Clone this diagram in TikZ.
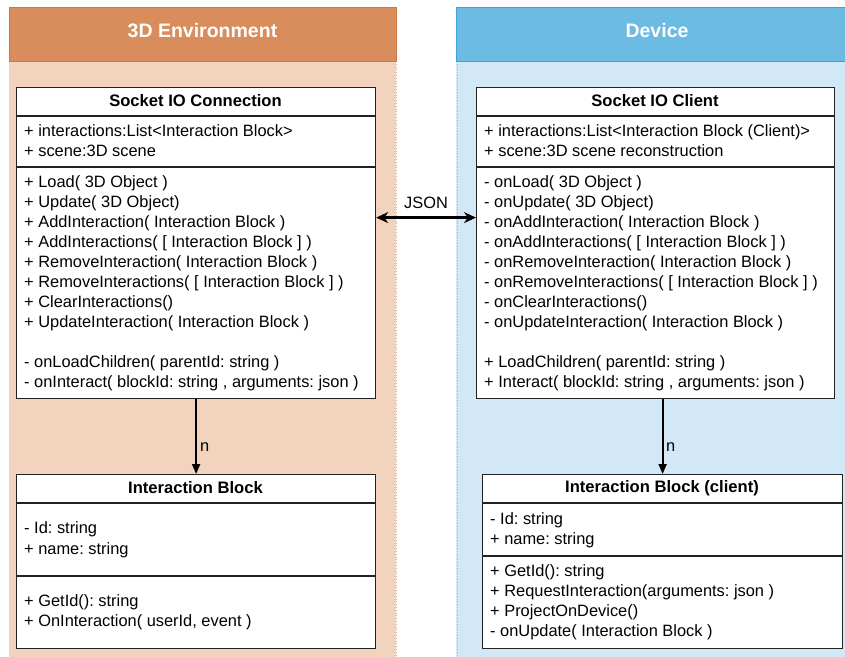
\documentclass[tikz,border=0pt]{standalone}
\usepackage{fontspec}
\setmainfont{Liberation Sans}
\usetikzlibrary{arrows.meta}
\definecolor{orHead}{HTML}{DA8D5C}
\definecolor{orEdge}{HTML}{D0793A}
\definecolor{orBody}{HTML}{F2D3BE}
\definecolor{blHead}{HTML}{6BBBE3}
\definecolor{blEdge}{HTML}{3FA3DA}
\definecolor{blBody}{HTML}{D3E8F7}
\definecolor{boxEdge}{HTML}{222222}
\frenchspacing
\begin{document}
\begin{tikzpicture}[x=1pt,y=-1pt,
  header/.style={anchor=north west, minimum height=54pt, inner sep=0pt, line width=1pt},
  htext/.style={inner sep=0pt, font=\fontsize{19.5}{22}\selectfont\bfseries, text=white},
  cls/.style={draw=boxEdge, fill=white, line width=1.2pt, anchor=north west, inner sep=0pt},
  divider/.style={draw=boxEdge, line width=1.2pt},
  ctitle/.style={inner sep=0pt, font=\fontsize{16.6}{19}\selectfont\bfseries},
  txt/.style={anchor=base west, inner sep=0pt, font=\fontsize{16.4}{19}\selectfont},
  lbl/.style={inner sep=0pt, font=\fontsize{16.4}{19}\selectfont},
  downarr/.style={draw=black, line width=2pt, -{Triangle[length=10pt,width=8pt]}},
  jsonarr/.style={draw=black, line width=3pt, {Stealth[length=12pt,width=11pt]}-{Stealth[length=12pt,width=11pt]}}
]
\useasboundingbox (0,0) rectangle (845,656);

% panels
\fill[orBody] (9,61) rectangle (396,660);
\draw[orEdge!70, dotted, line width=0.8pt] (396,61) -- (396,660);
\fill[blBody] (456,61) rectangle (850,660);
\draw[blEdge!70, dotted, line width=0.8pt] (457,61) -- (457,660);
\node[header, fill=orHead, draw=orEdge, minimum width=387pt] (envh) at (9,7) {};
\node[htext] (envt) at (202.5,31) {3D Environment};
\node[header, fill=blHead, draw=blEdge, minimum width=395pt] (devh) at (456,7) {};
\node[htext] (devt) at (657,31) {Device};

% Socket IO Connection
\node[cls, minimum width=359pt, minimum height=311pt] (sock) at (16,87) {};
\node[ctitle] (sockT) at (195.5,101) {Socket IO Connection};
\draw[divider] (16,116) -- (375,116);
\draw[divider] (16,167) -- (375,167);
\foreach \t [count=\i] in {{+ interactions:List<Interaction Block>},{+ scene:3D scene}}
  \node[txt] (sa\i) at (24,116+20*\i) {\t};
\foreach \t [count=\i] in {{+ Load( 3D Object )},{+ Update( 3D Object)},{+ AddInteraction( Interaction Block )},
  {+ AddInteractions( [ Interaction Block ] )},{+ RemoveInteraction( Interaction Block )},
  {+ RemoveInteractions( [ Interaction Block ] )},{+ ClearInteractions()},{+ UpdateInteraction( Interaction Block )}}
  \node[txt] (sm\i) at (24,167+20*\i) {\t};
\node[txt] (sm9) at (24,367) {- onLoadChildren( parentId: string )};
\node[txt] (sm10) at (24,387) {- onInteract( blockId: string , arguments: json )};

% Socket IO Client
\node[cls, minimum width=358pt, minimum height=311pt] (cli) at (476,87) {};
\node[ctitle] (cliT) at (655,101) {Socket IO Client};
\draw[divider] (476,116) -- (834,116);
\draw[divider] (476,167) -- (834,167);
\foreach \t [count=\i] in {{+ interactions:List<Interaction Block (Client)>},{+ scene:3D scene reconstruction}}
  \node[txt] (ca\i) at (484,116+20*\i) {\t};
\foreach \t [count=\i] in {{- onLoad( 3D Object )},{- onUpdate( 3D Object)},{- onAddInteraction( Interaction Block )},
  {- onAddInteractions( [ Interaction Block ] )},{- onRemoveInteraction( Interaction Block )},
  {- onRemoveInteractions( [ Interaction Block ] )},{- onClearInteractions()},{- onUpdateInteraction( Interaction Block )}}
  \node[txt] (cm\i) at (484,167+20*\i) {\t};
\node[txt] (cm9) at (484,367) {+ LoadChildren( parentId: string )};
\node[txt] (cm10) at (484,387) {+ Interact( blockId: string , arguments: json )};

% Interaction Block
\node[cls, minimum width=359pt, minimum height=174pt] (ib) at (16,474) {};
\node[ctitle] (ibT) at (195.5,488) {Interaction Block};
\draw[divider] (16,503) -- (375,503);
\draw[divider] (16,576) -- (375,576);
\node[txt] (ia1) at (24,533) {- Id: string};
\node[txt] (ia2) at (24,554) {+ name: string};
\node[txt] (im1) at (24,606) {+ GetId(): string};
\node[txt] (im2) at (24,626) {+ OnInteraction( userId, event )};

% Interaction Block (client)
\node[cls, minimum width=360pt, minimum height=174pt] (ibc) at (482,474) {};
\node[ctitle] (ibcT) at (662,488) {Interaction Block (client)};
\draw[divider] (482,503) -- (842,503);
\draw[divider] (482,556) -- (842,556);
\node[txt] (ja1) at (490,524) {- Id: string};
\node[txt] (ja2) at (490,544) {+ name: string};
\foreach \t [count=\i] in {{+ GetId(): string},{+ RequestInteraction(arguments: json )},{+ ProjectOnDevice()},{- onUpdate( Interaction Block )}}
  \node[txt] (jm\i) at (490,556+20*\i) {\t};

% connectors
\draw[jsonarr] ([yshift=25.5pt]sock.east) -- ([yshift=25.5pt]cli.west);
\node[lbl] (json) at (426,203) {JSON};
\draw[downarr] (sock.south) -- (ib.north);
\node[lbl, anchor=west] (n1) at (200,447) {n};
\draw[downarr] (ibc.north |- cli.south) -- (ibc.north);
\node[lbl, anchor=west] (n2) at (666,447) {n};
\end{tikzpicture}
\end{document}
